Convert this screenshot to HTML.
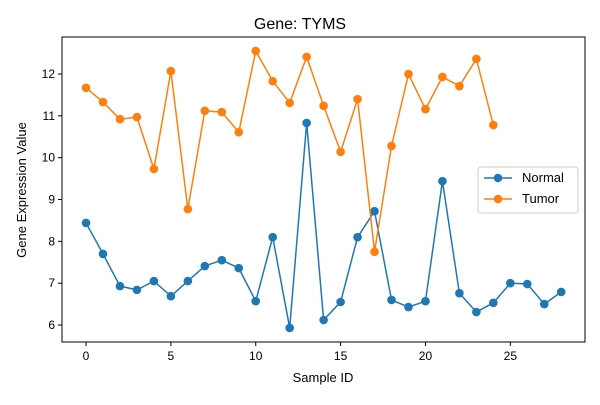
<!DOCTYPE html>
<html><head><meta charset="utf-8"><style>body{margin:0;background:#fff}svg{font-family:"Liberation Sans","DejaVu Sans",sans-serif}</style></head>
<body>
<svg id="chart" width="600" height="400"></svg>
<script>
const normalValues=[8.44,7.70,6.93,6.84,7.05,6.69,7.05,7.41,7.55,7.36,6.57,8.10,5.93,10.83,6.12,6.55,8.10,8.72,6.60,6.43,6.57,9.44,6.76,6.31,6.53,7.00,6.98,6.50,6.79];
const tumorValues=[11.67,11.33,10.92,10.97,9.73,12.07,8.77,11.12,11.09,10.61,12.55,11.83,11.31,12.41,11.24,10.14,11.40,7.75,10.28,12.00,11.16,11.93,11.71,12.36,10.78];
const xTicks=[0,5,10,15,20,25];
const yTicks=[6,7,8,9,10,11,12];
const L=62,R=585,T=37,B=342,xmin=-1.415,xmax=29.4,ymin=5.594,ymax=12.885;
const X=v=>L+(v-xmin)/(xmax-xmin)*(R-L);
const Y=v=>B-(v-ymin)/(ymax-ymin)*(B-T);
const svg=document.getElementById('chart');const NS='http://www.w3.org/2000/svg';
function mk(t,a,p){const e=document.createElementNS(NS,t);for(const k in a)e.setAttribute(k,a[k]);(p||svg).appendChild(e);return e;}
let e;
e=mk('text',{x:300,y:29,'text-anchor':'middle','font-size':16,fill:'#000'});e.textContent='Gene: TYMS';


xTicks.forEach(v=>{mk('line',{x1:X(v),x2:X(v),y1:B,y2:B+4,stroke:'#000'});const t=mk('text',{x:X(v),y:B+18,'text-anchor':'middle','font-size':12});t.textContent=v;

});
yTicks.forEach(v=>{mk('line',{x1:L-4,x2:L,y1:Y(v),y2:Y(v),stroke:'#000'});const t=mk('text',{x:L-7,y:Y(v)+4,'text-anchor':'end','font-size':12});t.textContent=v;

});
e=mk('text',{x:323,y:382,'text-anchor':'middle','font-size':13});e.textContent='Sample ID';


e=mk('text',{x:26,y:190,'text-anchor':'middle','font-size':13,transform:'rotate(-90 26 190)'});e.textContent='Gene Expression Value';


function series(vals,color,name){const g=mk('g',{});

mk('polyline',{points:vals.map((v,i)=>X(i)+','+Y(v)).join(' '),fill:'none',stroke:color,'stroke-width':1.5},g);
vals.forEach((v,i)=>{const c=mk('circle',{cx:X(i),cy:Y(v),r:4.3,fill:color},g);

});}
series(normalValues,'#1f77b4','normal');
series(tumorValues,'#ff7f0e','tumor');
e=mk('rect',{x:L,y:T,width:R-L,height:B-T,fill:'none',stroke:'#000','stroke-width':1});


const lg=mk('g',{});

mk('rect',{x:478,y:167,width:100,height:46,rx:3,fill:'#fff',stroke:'#ccc'},lg);
[['Normal','#1f77b4',182],['Tumor','#ff7f0e',203]].forEach(([n,c,y])=>{mk('line',{x1:484,x2:512,y1:y-4,y2:y-4,stroke:c,'stroke-width':1.5},lg);mk('circle',{cx:498,cy:y-4,r:4.3,fill:c},lg);const t=mk('text',{x:522,y:y,'font-size':13},lg);t.textContent=n;

});
</script>
</body></html>
